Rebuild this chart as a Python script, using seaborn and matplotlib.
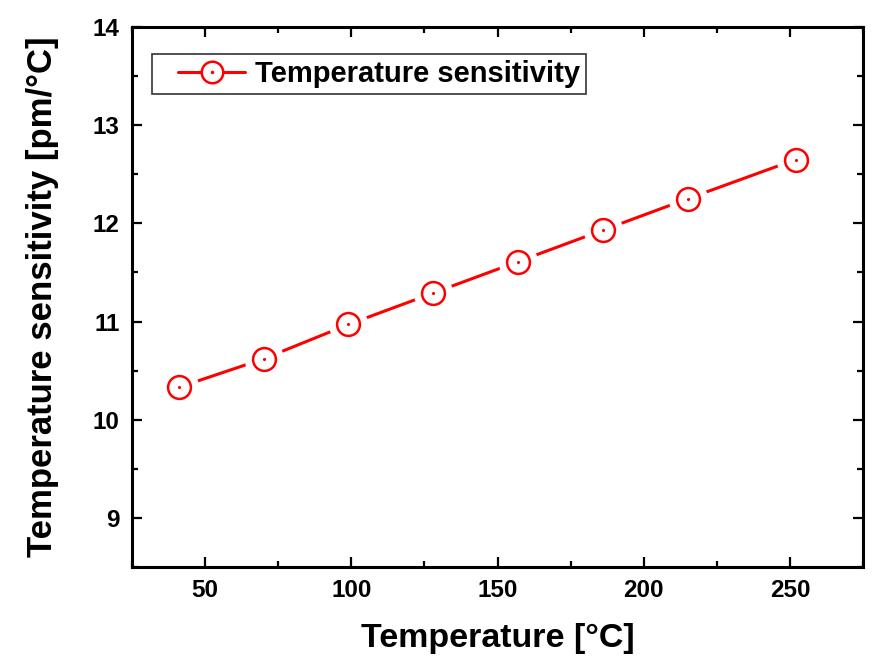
import numpy as np
import pandas as pd
import matplotlib
matplotlib.use("Agg")
import matplotlib.pyplot as plt
import seaborn as sns
from matplotlib.ticker import MultipleLocator
from matplotlib.lines import Line2D
from matplotlib.legend_handler import HandlerLine2D

# values
temperature = [41, 70, 99, 128, 157, 186, 215, 252]
sensitivity = [10.33, 10.62, 10.97, 11.29, 11.61, 11.93, 12.25, 12.65]

df = pd.DataFrame({"Temperature": temperature, "Sensitivity": sensitivity})

sns.set_theme(style="ticks")
plt.rcParams['font.family'] = ['Liberation Sans', 'DejaVu Sans']
plt.rcParams['font.weight'] = 'bold'
plt.rcParams['text.color'] = 'black'
plt.rcParams['axes.labelcolor'] = 'black'
plt.rcParams['xtick.color'] = 'black'
plt.rcParams['ytick.color'] = 'black'

fig = plt.figure(figsize=(8.9, 6.63), dpi=100)
ax = fig.add_axes([0.1483, 0.1448, 0.8214, 0.8145])

red = '#ff0000'
sns.lineplot(data=df, x="Temperature", y="Sensitivity", color=red, lw=2.2, ax=ax, zorder=2)
# white halo so the line stops short of each marker
ax.scatter(df["Temperature"], df["Sensitivity"], s=800, color='white', zorder=3, linewidths=0)
ax.scatter(df["Temperature"], df["Sensitivity"], s=270, facecolor='white', edgecolor=red,
           linewidths=1.8, zorder=4)
ax.scatter(df["Temperature"], df["Sensitivity"], s=5, color=red, zorder=5, linewidths=0)

ax.set_xlim(25, 275)
ax.set_ylim(8.5, 14)
ax.xaxis.set_major_locator(MultipleLocator(50))
ax.xaxis.set_minor_locator(MultipleLocator(25))
ax.yaxis.set_major_locator(MultipleLocator(1))
ax.yaxis.set_minor_locator(MultipleLocator(0.5))

for sp in ax.spines.values():
    sp.set_linewidth(2.2)
    sp.set_visible(True)
    sp.set_color('black')
ax.tick_params(which='both', direction='in', top=True, right=True, width=1.6)
ax.tick_params(which='major', length=7, labelsize=17.5, pad=9)
ax.tick_params(which='minor', length=4)
for lab in ax.get_xticklabels() + ax.get_yticklabels():
    lab.set_fontweight('bold')

ax.set_xlabel('Temperature [°C]', fontsize=24.5, fontweight='bold', labelpad=15)
ax.set_ylabel('Temperature sensitivity [pm/°C]', fontsize=25, fontweight='bold', labelpad=24)


class GapHandler(HandlerLine2D):
    def create_artists(self, legend, orig_handle, xdescent, ydescent, width, height, fontsize, trans):
        y = height / 2 - ydescent
        x0 = -xdescent
        left = Line2D([x0 + 15, x0 + 31], [y, y], color=red, lw=2.2, transform=trans)
        right = Line2D([x0 + 48, x0 + 63], [y, y], color=red, lw=2.2, transform=trans)
        mk = Line2D([x0 + 39.5], [y], marker='o', markersize=15.5, markerfacecolor='white',
                    markeredgecolor=red, markeredgewidth=1.8, ls='none', transform=trans)
        dot = Line2D([x0 + 39.5], [y], marker='o', markersize=1.5, color=red, ls='none', transform=trans)
        return [left, right, mk, dot]


handle = Line2D([], [], color=red)
leg = ax.legend([handle], ['Temperature sensitivity'], loc='upper left',
                bbox_to_anchor=(0.027, 0.95), frameon=True, fancybox=False,
                prop={'size': 21, 'weight': 'bold'}, handlelength=3.1, handletextpad=0.25,
                borderpad=0.2, borderaxespad=0, handler_map={handle: GapHandler()})
leg.get_frame().set_edgecolor('black')
leg.get_frame().set_linewidth(1.2)

fig.savefig('out.png', dpi=100)
